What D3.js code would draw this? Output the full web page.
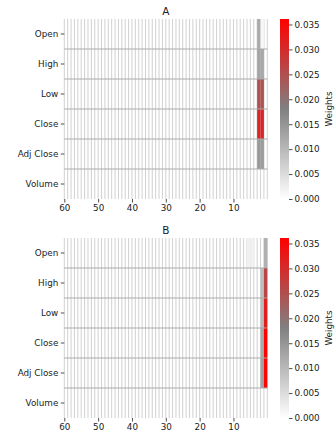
<!DOCTYPE html>
<html>
<head>
<meta charset="utf-8">
<script src="https://cdn.jsdelivr.net/npm/d3@7"></script>
<style>
  body { margin: 0; background: #fff; }
  text { font-family: "DejaVu Sans", sans-serif; fill: #222; }
</style>
</head>
<body>
<svg id="chart" width="335" height="433"></svg>
<script>
// rows of each heatmap
var features = ["Open", "High", "Low", "Close", "Adj Close", "Volume"];
// columns: lag 60 (left) ... lag 1 (right)
var lags = d3.range(60, 0, -1);
var xTicks = [60, 50, 40, 30, 20, 10];
var cbTicks = [0, 0.005, 0.01, 0.015, 0.02, 0.025, 0.03, 0.035];
var vmax = 0.0361;

// only the most recent lags carry weight, all older lags read as 0
var recentLags = [6, 5, 4, 3, 2, 1];
var weightsA = [
  [0, 0, 0, 0.0121, 0.0012, 0],   // Open
  [0, 0, 0, 0.0130, 0.0124, 0],   // High
  [0, 0, 0, 0.0248, 0.0244, 0],   // Low
  [0, 0, 0, 0.0310, 0.0306, 0],   // Close
  [0, 0, 0, 0.0145, 0.0141, 0],   // Adj Close
  [0, 0, 0, 0, 0, 0]              // Volume
];
var weightsB = [
  [0.0020, 0.0018, 0, 0, 0, 0.0112],
  [0, 0, 0, 0, 0.0092, 0.0262],
  [0, 0, 0, 0, 0.0098, 0.0318],
  [0, 0, 0, 0, 0.0122, 0.0361],
  [0, 0, 0, 0, 0.0132, 0.0355],
  [0, 0, 0, 0, 0, 0]
];

var panels = [
  {title: "A", weights: weightsA, top: 19},
  {title: "B", weights: weightsB, top: 238}
];

var svg = d3.select("#chart");
var W = {left: 64.3, right: 267.3, h: 180, cbX: 280, cbW: 9};
var fs = "8.8px";

var color = d3.scaleLinear()
  .domain([0, vmax / 2, vmax])
  .range(["#ffffff", "#808080", "#ff0000"]);

var defs = svg.append("defs");
var grad = defs.append("linearGradient")
  .attr("id", "cbgrad")
  .attr("x1", 0).attr("y1", 1).attr("x2", 0).attr("y2", 0);
grad.append("stop").attr("offset", "0%").attr("stop-color", "#ffffff");
grad.append("stop").attr("offset", "50%").attr("stop-color", "#808080");
grad.append("stop").attr("offset", "100%").attr("stop-color", "#ff0000");

panels.forEach(function(p) {
  var g = svg.append("g");
  var x = d3.scaleBand().domain(lags).range([W.left, W.right]).padding(0);
  var y = d3.scaleBand().domain(features).range([p.top, p.top + W.h]).padding(0);

  // vertical grid (cell edges)
  g.append("g").selectAll("line")
    .data(lags.concat(["end"]))
    .enter().append("line")
      .attr("x1", function(d) { return d === "end" ? W.right : x(d); })
      .attr("x2", function(d) { return d === "end" ? W.right : x(d); })
      .attr("y1", p.top).attr("y2", p.top + W.h)
      .attr("stroke", "#cccccc").attr("stroke-width", 0.9);

  // cells
  var cells = [];
  features.forEach(function(f, r) {
    recentLags.forEach(function(l, i) {
      var v = p.weights[r][i];
      if (v > 0) cells.push({f: f, lag: l, v: v});
    });
  });
  g.append("g").selectAll("rect")
    .data(cells)
    .enter().append("rect")
      .attr("x", function(d) { return x(d.lag); })
      .attr("y", function(d) { return y(d.f); })
      .attr("width", x.bandwidth())
      .attr("height", y.bandwidth())
      .attr("fill", function(d) { return color(d.v); });

  // horizontal separators between rows
  g.append("g").selectAll("line")
    .data(features.slice(1))
    .enter().append("line")
      .attr("x1", W.left).attr("x2", W.right)
      .attr("y1", function(d) { return y(d); })
      .attr("y2", function(d) { return y(d); })
      .attr("stroke", "#aaaaaa").attr("stroke-width", 1);

  // y axis
  var yAxis = g.append("g")
    .attr("transform", "translate(" + W.left + ",0)")
    .call(d3.axisLeft(y).tickSize(3.5).tickPadding(2.5));
  yAxis.select(".domain").remove();
  yAxis.selectAll("text").style("font-size", fs);
  yAxis.selectAll("line").attr("stroke", "#222").attr("stroke-width", 0.8);

  // x axis (ticks at the left edge of the labelled lag)
  var xPos = d3.scaleLinear().domain([60, 0]).range([W.left, W.right]);
  var xAxis = g.append("g")
    .attr("transform", "translate(0," + (p.top + W.h) + ")")
    .call(d3.axisBottom(xPos).tickValues(xTicks).tickSize(3.5).tickPadding(2));
  xAxis.select(".domain").remove();
  xAxis.selectAll("text").style("font-size", fs);
  xAxis.selectAll("line").attr("stroke", "#222").attr("stroke-width", 0.8);

  // title
  g.append("text")
    .attr("x", (W.left + W.right) / 2)
    .attr("y", p.top - 4.5)
    .attr("text-anchor", "middle")
    .style("font-size", "10.5px")
    .text(p.title);

  // colorbar
  g.append("rect")
    .attr("x", W.cbX).attr("y", p.top)
    .attr("width", W.cbW).attr("height", W.h)
    .attr("fill", "url(#cbgrad)");
  var cb = d3.scaleLinear().domain([0, vmax]).range([p.top + W.h, p.top]);
  var cbAxis = g.append("g")
    .attr("transform", "translate(" + (W.cbX + W.cbW) + ",0)")
    .call(d3.axisRight(cb).tickValues(cbTicks).tickFormat(d3.format(".3f")).tickSize(3.5).tickPadding(2));
  cbAxis.select(".domain").remove();
  cbAxis.selectAll("text").style("font-size", fs);
  cbAxis.selectAll("line").attr("stroke", "#222").attr("stroke-width", 0.8);

  g.append("text")
    .attr("transform", "translate(" + 332 + "," + (p.top + W.h / 2) + ") rotate(-90)")
    .attr("text-anchor", "middle")
    .style("font-size", fs)
    .text("Weights");
});
</script>
</body>
</html>
